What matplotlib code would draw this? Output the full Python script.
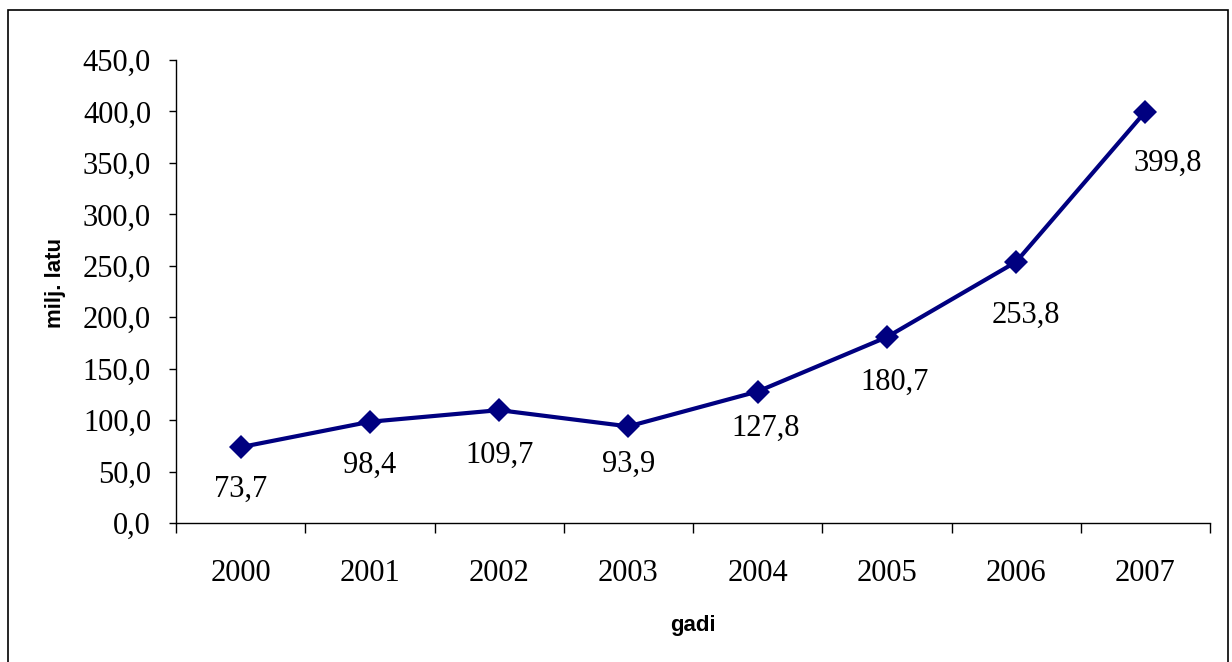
import matplotlib
matplotlib.use("Agg")
import matplotlib.pyplot as plt
from matplotlib.patches import Rectangle
from matplotlib.ticker import FuncFormatter, FixedLocator

years = ["2000", "2001", "2002", "2003", "2004", "2005", "2006", "2007"]
values = [73.7, 98.4, 109.7, 93.9, 127.8, 180.7, 253.8, 399.8]
value_labels = ["73,7", "98,4", "109,7", "93,9", "127,8", "180,7", "253,8", "399,8"]
label_dx = [0, 0, 0, 0, 8, 8, 10, 22]      # horizontal nudge of value labels (px)
label_dy = [-42, -44, -45, -38, -37, -45, -53, -52]  # vertical offset of value labels (px)

W, H = 1232, 662
fig = plt.figure(figsize=(W / 100, H / 100), dpi=100)
fig.patch.set_facecolor("white")

# outer frame (bottom edge runs off the canvas)
fig.add_artist(Rectangle((8 / W, -20 / H), 1220 / W, 672 / H, transform=fig.transFigure,
                         fill=False, edgecolor="black", linewidth=1.2))

ax = fig.add_axes([176 / W, 1 - 523 / H, (1210 - 176) / W, (523 - 60) / H])
serif = "Liberation Serif"
x = [i + 0.5 for i in range(len(years))]
ax.plot(x, values, color="#000080", linewidth=3, marker="D", markersize=12,
        markeredgewidth=0, zorder=3)

for xi, v, lab, dx, dy in zip(x, values, value_labels, label_dx, label_dy):
    ax.annotate(lab, (xi, v), xytext=(dx * 0.72, dy * 0.72), textcoords="offset points",
                ha="center", va="center", fontsize=22, family=serif, color="black")

ax.set_xlim(0, len(years))
ax.set_ylim(0, 450)
ax.set_yticks(range(0, 451, 50))
ax.yaxis.set_major_formatter(FuncFormatter(lambda v, p: f"{v:.1f}".replace(".", ",")))

ax.xaxis.set_major_locator(FixedLocator(list(range(len(years) + 1))))
ax.xaxis.set_minor_locator(FixedLocator(x))
ax.set_xticklabels([])
ax.set_xticklabels(years, minor=True)
ax.tick_params(axis="x", which="major", direction="out", length=7, width=1)
ax.tick_params(axis="x", which="minor", length=0, pad=26, labelsize=22)
ax.tick_params(axis="y", direction="out", length=5, width=1, pad=13, labelsize=22)
for t in ax.get_xticklabels(minor=True) + ax.get_yticklabels():
    t.set_family(serif)

for s in ["top", "right"]:
    ax.spines[s].set_visible(False)
for s in ["left", "bottom"]:
    ax.spines[s].set_linewidth(1)

fig.text(56 / W, 1 - 283 / H, "milj. latu", rotation=90, ha="center", va="center",
         fontsize=16, fontweight="bold", family="Liberation Sans")
fig.text(693 / W, 1 - 626 / H, "gadi", ha="center", va="center",
         fontsize=16, fontweight="bold", family="Liberation Sans")

fig.savefig("out.png", dpi=100)
